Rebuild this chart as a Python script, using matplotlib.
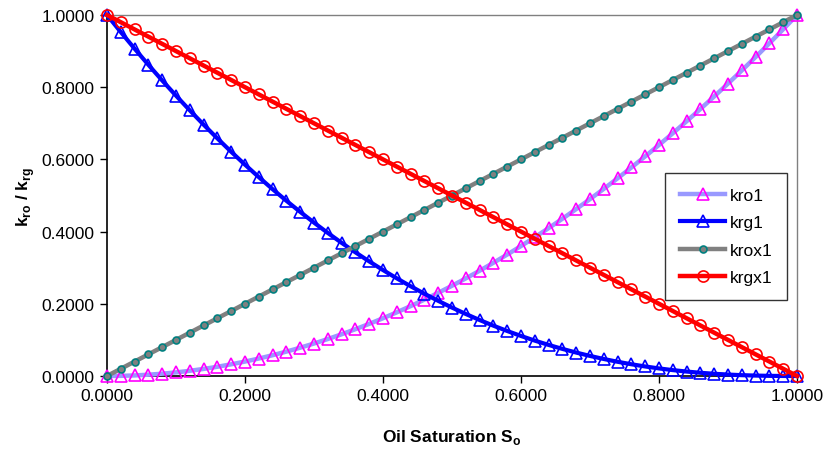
import matplotlib.pyplot as plt
import matplotlib as mpl
from matplotlib.ticker import FormatStrFormatter

mpl.rcParams["font.family"] = ["Liberation Sans", "DejaVu Sans"]
mpl.rcParams["mathtext.fontset"] = "custom"
mpl.rcParams["mathtext.rm"] = "Liberation Sans"
mpl.rcParams["mathtext.bf"] = "Liberation Sans:bold"

# oil saturation, step 0.02
so = [i / 50 for i in range(51)]

kro1 = [0.0000, 0.0004, 0.0016, 0.0036, 0.0064, 0.0100, 0.0144, 0.0196, 0.0256, 0.0324,
        0.0400, 0.0484, 0.0576, 0.0676, 0.0784, 0.0900, 0.1024, 0.1156, 0.1296, 0.1444,
        0.1600, 0.1764, 0.1936, 0.2116, 0.2304, 0.2500, 0.2704, 0.2916, 0.3136, 0.3364,
        0.3600, 0.3844, 0.4096, 0.4356, 0.4624, 0.4900, 0.5184, 0.5476, 0.5776, 0.6084,
        0.6400, 0.6724, 0.7056, 0.7396, 0.7744, 0.8100, 0.8464, 0.8836, 0.9216, 0.9604,
        1.0000]

krg1 = [1.0000, 0.9527, 0.9067, 0.8620, 0.8186, 0.7766, 0.7358, 0.6963, 0.6581, 0.6211,
        0.5854, 0.5509, 0.5175, 0.4854, 0.4546, 0.4249, 0.3963, 0.3689, 0.3426, 0.3175,
        0.2935, 0.2705, 0.2487, 0.2279, 0.2082, 0.1895, 0.1718, 0.1551, 0.1394, 0.1247,
        0.1109, 0.0980, 0.0861, 0.0751, 0.0649, 0.0556, 0.0471, 0.0394, 0.0325, 0.0264,
        0.0210, 0.0163, 0.0123, 0.0089, 0.0062, 0.0040, 0.0023, 0.0012, 0.0004, 0.0001,
        0.0000]

krox1 = [0.00, 0.02, 0.04, 0.06, 0.08, 0.10, 0.12, 0.14, 0.16, 0.18,
         0.20, 0.22, 0.24, 0.26, 0.28, 0.30, 0.32, 0.34, 0.36, 0.38,
         0.40, 0.42, 0.44, 0.46, 0.48, 0.50, 0.52, 0.54, 0.56, 0.58,
         0.60, 0.62, 0.64, 0.66, 0.68, 0.70, 0.72, 0.74, 0.76, 0.78,
         0.80, 0.82, 0.84, 0.86, 0.88, 0.90, 0.92, 0.94, 0.96, 0.98,
         1.00]

krgx1 = [1.00, 0.98, 0.96, 0.94, 0.92, 0.90, 0.88, 0.86, 0.84, 0.82,
         0.80, 0.78, 0.76, 0.74, 0.72, 0.70, 0.68, 0.66, 0.64, 0.62,
         0.60, 0.58, 0.56, 0.54, 0.52, 0.50, 0.48, 0.46, 0.44, 0.42,
         0.40, 0.38, 0.36, 0.34, 0.32, 0.30, 0.28, 0.26, 0.24, 0.22,
         0.20, 0.18, 0.16, 0.14, 0.12, 0.10, 0.08, 0.06, 0.04, 0.02,
         0.00]

ticks = [0.0, 0.2, 0.4, 0.6, 0.8, 1.0]

fig = plt.figure(figsize=(8.28, 4.52), dpi=100)
ax = fig.add_axes([107 / 828, 1 - 377 / 452, 690 / 828, 361 / 452])

ax.plot(so, kro1, color="#9999FF", lw=3.2, marker="^", ms=8, mfc="none",
        mec="#FF00FF", mew=1.2, label="kro1", clip_on=False, zorder=3)
ax.plot(so, krg1, color="#0000FF", lw=3.0, marker="^", ms=8, mfc="none",
        mec="#0000FF", mew=1.2, label="krg1", clip_on=False, zorder=4)
ax.plot(so, krox1, color="#808080", lw=3.2, marker="o", ms=5, mfc="#808080",
        mec="#008080", mew=1.2, label="krox1", clip_on=False, zorder=5)
ax.plot(so, krgx1, color="#FF0000", lw=3.2, marker="o", ms=8, mfc="none",
        mec="#FF0000", mew=1.2, label="krgx1", clip_on=False, zorder=6)

ax.set_xlim(0, 1)
ax.set_ylim(0, 1)
ax.set_xticks(ticks)
ax.set_yticks(ticks)
ax.xaxis.set_major_formatter(FormatStrFormatter("%.4f"))
ax.yaxis.set_major_formatter(FormatStrFormatter("%.4f"))
ax.tick_params(direction="out", length=5, width=1, labelsize=12.5, pad=4)

for s in ("top", "right"):
    ax.spines[s].set_color("#808080")
    ax.spines[s].set_linewidth(1)
for s in ("left", "bottom"):
    ax.spines[s].set_color("black")
    ax.spines[s].set_linewidth(1.2)

ax.set_xlabel(r"Oil Saturation S$_\mathbf{o}$", fontsize=12.5, fontweight="bold", labelpad=17)
ax.set_ylabel(r"k$_\mathbf{ro}$ / k$_\mathbf{rg}$", fontsize=12.5, fontweight="bold", labelpad=3)

leg = ax.legend(loc="upper right", bbox_to_anchor=(0.9855, 0.562), borderaxespad=0,
                fontsize=12.5, handlelength=2.6, frameon=True, fancybox=False,
                labelspacing=0.7, handletextpad=0.25, borderpad=0.85)
leg.get_frame().set_edgecolor("black")
leg.get_frame().set_linewidth(1)

fig.savefig("out.png", dpi=100, facecolor="white")
